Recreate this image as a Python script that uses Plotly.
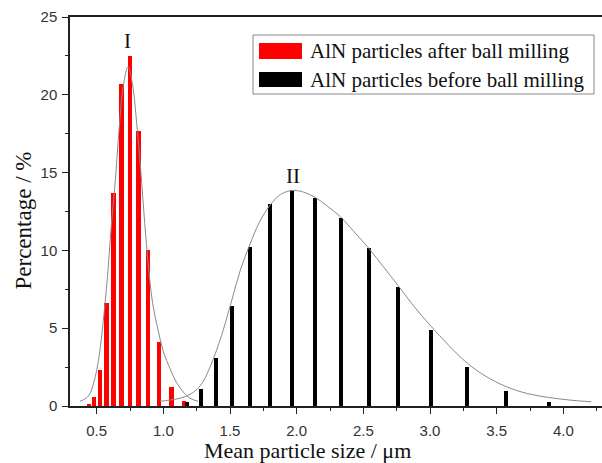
import plotly.graph_objects as go

# ---- data ----
after_x = [0.443, 0.482, 0.525, 0.573, 0.625, 0.685, 0.748, 0.815, 0.887, 0.968, 1.06, 1.155]
after_y = [0.1, 0.6, 2.3, 6.6, 13.7, 20.7, 22.5, 17.7, 10.0, 4.1, 1.2, 0.3]

before_x = [1.18, 1.28, 1.395, 1.518, 1.653, 1.80, 1.965, 2.138, 2.33, 2.54, 2.763, 3.008, 3.278, 3.573, 3.891]
before_y = [0.27, 1.1, 3.1, 6.45, 10.2, 12.97, 13.85, 13.35, 12.1, 10.17, 7.67, 4.9, 2.5, 0.97, 0.27]

fit1_x = [0.375, 0.42, 0.45, 0.49, 0.52, 0.55, 0.58, 0.61, 0.64, 0.67, 0.70, 0.735, 0.77, 0.80, 0.83,
          0.86, 0.89, 0.92, 0.96, 1.00, 1.05, 1.10, 1.15, 1.20, 1.26]
fit1_y = [0.3, 0.5, 0.8, 1.9, 3.3, 5.5, 8.2, 11.6, 14.5, 18.0, 20.6, 21.8, 20.6, 18.2, 15.2,
          11.8, 8.8, 6.6, 4.9, 3.5, 2.4, 1.5, 0.9, 0.5, 0.3]

fit2_x = [0.975, 1.05, 1.125, 1.20, 1.25, 1.30, 1.35, 1.40, 1.45, 1.52, 1.58, 1.65, 1.72, 1.80, 1.88,
          1.965, 2.05, 2.14, 2.23, 2.33, 2.43, 2.54, 2.65, 2.76, 2.88, 3.00, 3.14, 3.28, 3.42,
          3.57, 3.73, 3.89, 4.05, 4.21]
fit2_y = [0.3, 0.38, 0.5, 0.75, 1.05, 1.6, 2.5, 3.6, 4.9, 7.0, 8.8, 10.4, 11.8, 12.9, 13.6,
          13.85, 13.75, 13.4, 12.85, 12.15, 11.2, 10.15, 8.95, 7.75, 6.4, 5.2, 3.9, 2.75, 1.9,
          1.25, 0.8, 0.55, 0.38, 0.27]

names = ["AlN particles after ball milling", "AlN particles before ball milling"]
colors = ["#ff0000", "#000000"]
x_ticks = [0.5, 1.0, 1.5, 2.0, 2.5, 3.0, 3.5, 4.0]
y_ticks = [0, 5, 10, 15, 20, 25]
peak_labels = ["I", "II"]
peak_pos = [(0.733, 23.45), (1.975, 14.75)]

W, H = 602, 463
ML, MR, MT, MB = 70, 0, 17, 57
PW, PH = W - ML - MR, H - MT - MB

def px(x):
    return (x - ML) / PW

def py(y):
    return (H - MB - y) / PH

fig = go.Figure()
fig.add_trace(go.Bar(x=after_x, y=after_y, width=0.033, marker=dict(color=colors[0], line=dict(width=0)),
                     name=names[0], showlegend=False))
fig.add_trace(go.Bar(x=before_x, y=before_y, width=0.03, marker=dict(color=colors[1], line=dict(width=0)),
                     name=names[1], showlegend=False))
for fx, fy in [(fit1_x, fit1_y), (fit2_x, fit2_y)]:
    fig.add_trace(go.Scatter(x=fx, y=fy, mode="lines", line=dict(color="#8a8a8a", width=1, shape="spline", smoothing=1.0),
                             showlegend=False, hoverinfo="skip"))

serif = "Liberation Serif, Times New Roman, serif"
sans = "Liberation Sans, Arial, sans-serif"

annotations = []
for lab, (ax, ay) in zip(peak_labels, peak_pos):
    annotations.append(dict(x=ax, y=ay, xref="x", yref="y", text=lab, showarrow=False,
                            font=dict(family=serif, size=21, color="#111")))
annotations.append(dict(x=px(307), y=py(451), xref="paper", yref="paper", text="Mean particle size / μm",
                        showarrow=False, xanchor="center", yanchor="middle",
                        font=dict(family=serif, size=22, color="#111")))
annotations.append(dict(x=px(22.5), y=py(221), xref="paper", yref="paper", text="Percentage / %",
                        showarrow=False, xanchor="center", yanchor="middle", textangle=-90,
                        font=dict(family=serif, size=23, color="#111")))

shapes = [dict(type="rect", xref="paper", yref="paper", x0=px(253), x1=px(594), y0=py(94), y1=py(35),
               line=dict(color="#888", width=1), fillcolor="white", layer="above")]
legend_rows = [(43, 59, 51), (72, 87, 79.5)]
for (t, b, c), nm, col in zip(legend_rows, names, colors):
    shapes.append(dict(type="rect", xref="paper", yref="paper", x0=px(259), x1=px(302), y0=py(b), y1=py(t),
                       line=dict(width=0), fillcolor=col, layer="above"))
    annotations.append(dict(x=px(308), y=py(c), xref="paper", yref="paper", text=nm, showarrow=False,
                            xanchor="left", yanchor="middle", font=dict(family=serif, size=21, color="#111")))

fig.update_layout(
    width=W, height=H, margin=dict(l=ML, r=MR, t=MT, b=MB),
    paper_bgcolor="white", plot_bgcolor="white", barmode="overlay", bargap=0,
    annotations=annotations, shapes=shapes, showlegend=False,
    xaxis=dict(range=[0.3, 4.29], tickvals=x_ticks, ticktext=[f"{v:.1f}" for v in x_ticks],
               ticks="outside", ticklen=6, tickwidth=1.2, tickcolor="#222",
               minor=dict(dtick=0.25, tick0=0, ticks="outside", ticklen=3.5, tickwidth=1.2, tickcolor="#222"),
               showgrid=False, zeroline=False, showline=True, mirror=True, linecolor="#222", linewidth=1.5,
               tickfont=dict(family=sans, size=15, color="#333"), ticklabelstandoff=4),
    yaxis=dict(range=[0, 25], tickvals=y_ticks, ticks="outside", ticklen=6, tickwidth=1.2, tickcolor="#222",
               minor=dict(dtick=2.5, tick0=0, ticks="outside", ticklen=3.5, tickwidth=1.2, tickcolor="#222"),
               showgrid=False, zeroline=False, showline=True, linecolor="#222", linewidth=1.5,
               tickfont=dict(family=sans, size=15, color="#333"), ticklabelstandoff=2),
)

fig.write_html("out.html", config={"displayModeBar": False},
               post_script="document.body.style.margin='0';document.body.style.overflow='hidden';")
